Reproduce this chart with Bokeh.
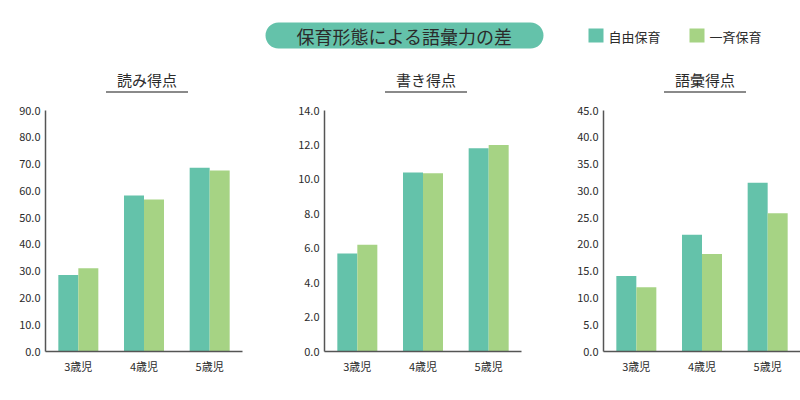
from bokeh.plotting import figure
from bokeh.layouts import column, row
from bokeh.models import Range1d, FixedTicker, SingleIntervalTicker, PrintfTickFormatter, ColumnDataSource
from bokeh.core.properties import value
from bokeh.embed import file_html
from bokeh.resources import INLINE

FONT = "Noto Sans CJK JP"
TEAL = "#64C2AA"
GREEN = "#A6D384"
TEXT = "#2b2b2b"

# ---- data ----
main_title = "保育形態による語彙力の差"
series_names = ["自由保育", "一斉保育"]
ages = ["3歳児", "4歳児", "5歳児"]

chart_titles = ["読み得点", "書き得点", "語彙得点"]
y_max = [90, 14, 45]
y_step = [10, 2, 5]

reading_free = [28.6, 58.3, 68.6]
reading_group = [31.1, 56.8, 67.6]
writing_free = [5.7, 10.4, 11.8]
writing_group = [6.2, 10.35, 12.0]
vocab_free = [14.1, 21.8, 31.5]
vocab_group = [12.0, 18.2, 25.8]

free_series = [reading_free, writing_free, vocab_free]
group_series = [reading_group, writing_group, vocab_group]

# ---- layout constants (page pixel coordinates) ----
TOTAL_W = 800
TOTAL_H = 400
HDR_H = 100
CH_H = TOTAL_H - HDR_H
FRAME_W = 197
FRAME_H = 241
BORDER_L = 45
fig_widths = [279, 279, 242]
BAR_W = 0.3046

# ---- header ----
hdr = figure(width=TOTAL_W, height=HDR_H, x_range=Range1d(0, TOTAL_W), y_range=Range1d(HDR_H, 0),
             toolbar_location=None, output_backend="svg", min_border=0,
             x_axis_type=None, y_axis_type=None, outline_line_color=None,
             background_fill_color="white", border_fill_color="white")
hdr.grid.visible = False

hdr.quad(left=[265], right=[543], top=[22], bottom=[48], fill_color=TEAL, line_color=None,
         border_radius=13)
hdr.text(x=[404], y=[35.5], text=[main_title], text_font=value(FONT), text_font_size="18px",
         text_color=TEXT, text_align="center", text_baseline="middle")

leg_x = [588, 689]
leg_colors = [TEAL, GREEN]
hdr.quad(left=leg_x, right=[x + 15 for x in leg_x], top=[28] * 2, bottom=[42] * 2,
         fill_color=leg_colors, line_color=None)
hdr.text(x=[x + 20 for x in leg_x], y=[35.5] * 2, text=series_names, text_font=value(FONT),
         text_font_size="13px", text_color=TEXT, text_align="left", text_baseline="middle")

# chart titles with underline, centered over each chart frame
title_cx = []
left = 0
for w in fig_widths:
    title_cx.append(left + BORDER_L + FRAME_W / 2 + 3)
    left += w
hdr.text(x=title_cx, y=[79] * 3, text=chart_titles, text_font=value(FONT), text_font_size="15px",
         text_color=TEXT, text_align="center", text_baseline="middle")
hdr.segment(x0=[c - 41 for c in title_cx], x1=[c + 41 for c in title_cx], y0=[91.5] * 3,
            y1=[91.5] * 3, line_color="#8a8a8a", line_width=2)

# ---- charts ----
charts = []
for i in range(3):
    border_r = fig_widths[i] - BORDER_L - FRAME_W
    p = figure(width=fig_widths[i], height=CH_H, x_range=Range1d(0, len(ages)),
               y_range=Range1d(0, y_max[i]), toolbar_location=None, output_backend="svg",
               min_border_left=BORDER_L, min_border_right=border_r,
               min_border_top=10, min_border_bottom=CH_H - 10 - FRAME_H,
               outline_line_color=None, background_fill_color="white",
               border_fill_color="white")
    centers = [k + 0.5 for k in range(len(ages))]
    src = ColumnDataSource(dict(
        x_free=[c - BAR_W / 2 for c in centers],
        x_group=[c + BAR_W / 2 for c in centers],
        free=free_series[i], group=group_series[i]))
    p.vbar(x="x_free", top="free", bottom=0, width=BAR_W, source=src,
           fill_color=TEAL, line_color=None)
    p.vbar(x="x_group", top="group", bottom=0, width=BAR_W, source=src,
           fill_color=GREEN, line_color=None)

    p.grid.visible = False
    for ax in (p.xaxis[0], p.yaxis[0]):
        ax.axis_line_color = "#555555"
        ax.axis_line_width = 1.5
        ax.major_tick_line_color = None
        ax.minor_tick_line_color = None
        ax.major_tick_out = 0
        ax.major_tick_in = 0
        ax.minor_tick_out = 0
        ax.minor_tick_in = 0
        ax.major_label_text_font = FONT
        ax.major_label_text_font_size = "11px"
        ax.major_label_text_color = TEXT
    p.yaxis[0].ticker = SingleIntervalTicker(interval=y_step[i], num_minor_ticks=0)
    p.yaxis[0].formatter = PrintfTickFormatter(format="%.1f")
    p.yaxis[0].major_label_standoff = 5
    p.xaxis[0].ticker = FixedTicker(ticks=centers)
    p.xaxis[0].major_label_overrides = {c: a for c, a in zip(centers, ages)}
    p.xaxis[0].major_label_standoff = 6
    charts.append(p)

layout = column(hdr, row(*charts, spacing=0), spacing=0)

open("out.html", "w").write(file_html(layout, INLINE))
